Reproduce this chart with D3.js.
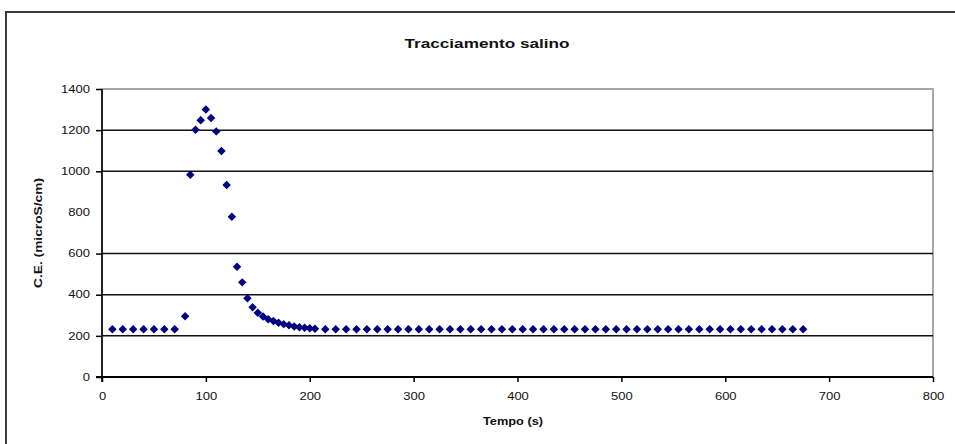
<!DOCTYPE html>
<html>
<head>
<meta charset="utf-8">
<script src="https://cdn.jsdelivr.net/npm/d3@7"></script>
<style>
  html, body { margin: 0; padding: 0; background: #fff; }
  svg { display: block; font-family: "Liberation Sans", Arial, sans-serif; }
</style>
</head>
<body>
<svg id="chart" width="955" height="444"></svg>
<script>
// Salt tracer test: electrical conductivity over time
const chartTitle = "Tracciamento salino";
const xTitle = "Tempo (s)";
const yTitle = "C.E. (microS/cm)";

const xTicks = [0, 100, 200, 300, 400, 500, 600, 700, 800];
const yTicks = [0, 200, 400, 600, 800, 1000, 1200, 1400];
const yGridValues = [200, 400, 600, 1000, 1200];
const yTickMarks = [0, 200, 400, 600, 1000, 1200, 1400];

// Sampling times (s)
const tempo = [
  10, 20, 30, 40, 50, 60, 70,
  80, 85, 90, 95, 100, 105, 110, 115, 120, 125, 130, 135, 140,
  145, 150, 155, 160, 165, 170, 175, 180, 185, 190, 195, 200, 205,
  215, 225, 235, 245, 255, 265, 275, 285, 295, 305,
  315, 325, 335, 345, 355, 365, 375, 385, 395, 405,
  415, 425, 435, 445, 455, 465, 475, 485, 495, 505,
  515, 525, 535, 545, 555, 565, 575, 585, 595, 605,
  615, 625, 635, 645, 655, 665, 675
];

// Conductivity readings (microS/cm)
const conducibilita = [
  232, 232, 232, 232, 232, 232, 232,
  295, 983, 1202, 1248, 1300, 1259, 1194, 1099, 933, 779, 536, 460, 383,
  339, 312, 294, 281, 272, 264, 257, 251, 246, 242, 239, 237, 235,
  232, 232, 232, 232, 232, 232, 232, 232, 232, 232,
  232, 232, 232, 232, 232, 232, 232, 232, 232, 232,
  232, 232, 232, 232, 232, 232, 232, 232, 232, 232,
  232, 232, 232, 232, 232, 232, 232, 232, 232, 232,
  232, 232, 232, 232, 232, 232, 232
];

const points = tempo.map((t, i) => ({ t, v: conducibilita[i] }));

const svg = d3.select("#chart");
const plot = { left: 102, right: 933, top: 89, bottom: 377 };

const x = d3.scaleLinear().domain([0, 800]).range([plot.left, plot.right]);
const y = d3.scaleLinear().domain([0, 1400]).range([plot.bottom, plot.top]);

// Horizontal widening applied to all text
const stretch = 1.3;
function widen(sel, factor) {
  sel.each(function () {
    const len = this.getComputedTextLength();
    d3.select(this)
      .attr("textLength", len * (factor || stretch))
      .attr("lengthAdjust", "spacingAndGlyphs");
  });
}

// Outer chart frame
svg.append("rect")
  .attr("x", 6).attr("y", 12)
  .attr("width", 1100).attr("height", 600)
  .attr("fill", "none")
  .attr("stroke", "#3a3a3a")
  .attr("stroke-width", 2);

// Plot area frame
svg.append("rect")
  .attr("x", plot.left).attr("y", plot.top)
  .attr("width", plot.right - plot.left)
  .attr("height", plot.bottom - plot.top)
  .attr("fill", "none")
  .attr("stroke", "#a8a8a8")
  .attr("stroke-width", 2);

// Horizontal gridlines
svg.append("g").selectAll("line")
  .data(yGridValues)
  .join("line")
  .attr("x1", plot.left).attr("x2", plot.right)
  .attr("y1", d => y(d)).attr("y2", d => y(d))
  .attr("stroke", "#111")
  .attr("stroke-width", 1.5);

// Y axis
const yAxis = svg.append("g")
  .attr("transform", `translate(${plot.left},0)`)
  .call(d3.axisLeft(y).tickValues(yTicks).tickSize(6).tickPadding(6).tickFormat(d3.format("d")));
yAxis.select(".domain").attr("stroke", "#000").attr("stroke-width", 1.6)
  .attr("d", `M0,${plot.top}V${plot.bottom + 5}`);
yAxis.selectAll(".tick line")
  .attr("stroke", "#000").attr("stroke-width", 1.5)
  .attr("display", d => yTickMarks.includes(d) ? null : "none");
yAxis.selectAll(".tick text")
  .attr("font-size", 10).attr("fill", "#111")
  .call(widen);

// X axis
const xAxis = svg.append("g")
  .attr("transform", `translate(0,${plot.bottom})`)
  .call(d3.axisBottom(x).tickValues(xTicks).tickSize(5).tickPadding(11).tickFormat(d3.format("d")));
xAxis.select(".domain").attr("stroke", "#000").attr("stroke-width", 2)
  .attr("d", `M${plot.left - 6},0H${plot.right}`);
xAxis.selectAll(".tick line").attr("stroke", "#000").attr("stroke-width", 1.5);
xAxis.selectAll(".tick text")
  .attr("font-size", 10).attr("fill", "#111")
  .call(widen);

// Titles
svg.append("text")
  .attr("x", 487).attr("y", 48)
  .attr("text-anchor", "middle")
  .attr("font-size", 13).attr("font-weight", "bold").attr("fill", "#111")
  .text(chartTitle)
  .attr("textLength", 165).attr("lengthAdjust", "spacingAndGlyphs");

svg.append("text")
  .attr("x", 513).attr("y", 425)
  .attr("text-anchor", "middle")
  .attr("font-size", 10).attr("font-weight", "bold").attr("fill", "#111")
  .text(xTitle)
  .attr("textLength", 60).attr("lengthAdjust", "spacingAndGlyphs");

svg.append("text")
  .attr("transform", "translate(42,233) rotate(-90)")
  .attr("text-anchor", "middle")
  .attr("font-size", 10).attr("font-weight", "bold").attr("fill", "#111")
  .text(yTitle)
  .attr("textLength", 110).attr("lengthAdjust", "spacingAndGlyphs");

// Diamond markers
const diamond = d3.symbol().type(d3.symbolSquare).size(36);
svg.append("g").selectAll("path")
  .data(points)
  .join("path")
  .attr("d", diamond)
  .attr("transform", d => `translate(${x(d.t)},${y(d.v)}) rotate(45)`)
  .attr("fill", "#000080");
</script>
</body>
</html>
